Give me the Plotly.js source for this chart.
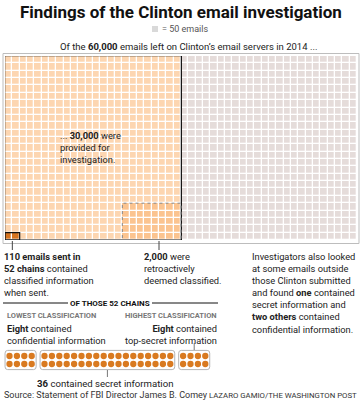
<!DOCTYPE html>
<html><head><meta charset="utf-8">
<script src="https://cdn.plot.ly/plotly-3.0.1.min.js"></script>
<style>html,body{margin:0;padding:0;background:#fff}#chart{width:362px;height:400px}</style>
</head><body><div id="chart"></div>
<script>
// ---- data ----
const totalEmails = 60000;
const emailsPerSquare = 50;
const providedEmails = 30000;
const retroClassifiedEmails = 2000;
const classifiedWhenSentEmails = 110;
const chainGroups = ["Confidential", "Secret", "Top secret"];
const chainCounts = [8, 36, 8];
const gridRows = 25;
const retroRows = 5;

// ---- helpers ----
const W = 362, H = 400;
const px = x => x / W;
const py = y => 1 - y / H;
const FONT = "Roboto, 'Liberation Sans', sans-serif";
const TXT = "#222";

// ---- grid ----
const totalSq = totalEmails / emailsPerSquare;
const nCols = totalSq / gridRows;
const provCols = providedEmails / emailsPerSquare / gridRows;
const retroSq = retroClassifiedEmails / emailsPerSquare;
const retroCols = retroSq / retroRows;
const classSq = Math.round(classifiedWhenSentEmails / emailsPerSquare);
const z = [];
for (let r = 0; r < gridRows; r++) {
  const row = [];
  for (let c = 0; c < nCols; c++) {
    let v = 0;
    if (c < provCols) v = 1;
    if (c < provCols && c >= provCols - retroCols && r < retroRows) v = 2;
    if (r === 0 && c < classSq) v = 3;
    row.push(v);
  }
  z.push(row);
}
const cGrey = "#e5dcda", cOr = "#fdd6b1", cDeep = "#fbc490", cDark = "#d6741f";
const heat = {
  type: "heatmap", z: z, x: [...Array(nCols).keys()], y: [...Array(gridRows).keys()],
  xgap: 1.3, ygap: 1.3, zmin: 0, zmax: 3, showscale: false, hoverinfo: "skip",
  colorscale: [[0, cGrey], [0.1667, cGrey], [0.1667, cOr], [0.5, cOr], [0.5, cDeep], [0.8333, cDeep], [0.8333, cDark], [1, cDark]]
};

// ---- dots ----
const gap = 0.73;
const dx = [], dy = [];
const offsets = [];
let off = 0;
chainCounts.forEach((n, g) => {
  offsets.push(off);
  for (let i = 0; i < n; i++) {
    dx.push(off + Math.floor(i / 2));
    dy.push(i % 2 === 0 ? 0.5 : -0.5);
  }
  off += n / 2 + gap;
});
const dots = {
  type: "scatter", mode: "markers", x: dx, y: dy, xaxis: "x2", yaxis: "y2",
  marker: { size: 6.3, color: "#d97a20", line: { width: 0 } }, hoverinfo: "skip"
};

// ---- shapes ----
const shapes = [];
shapes.push({ type: "rect", xref: "paper", yref: "paper", x0: px(3), x1: px(359), y0: py(243.5), y1: py(53.5), line: { color: "#bdbdbd", width: 1 } });
shapes.push({ type: "rect", xref: "x", yref: "y", x0: -0.55, x1: provCols - 0.45, y0: -0.5, y1: gridRows - 0.45, line: { color: "#111", width: 1.2 } });
shapes.push({ type: "rect", xref: "x", yref: "y", x0: provCols - retroCols - 0.5, x1: provCols - 0.5, y0: -0.5, y1: retroRows - 0.5, line: { color: "#888", width: 1, dash: "dot" } });
shapes.push({ type: "rect", xref: "x", yref: "y", x0: -0.5, x1: classSq - 0.5, y0: -0.5, y1: 0.5, line: { color: "#111", width: 1.2 } });
shapes.push({ type: "line", xref: "x", yref: "paper", x0: (classSq - 1) / 2, x1: (classSq - 1) / 2, y0: py(241), y1: py(250), line: { color: "#444", width: 1 } });
shapes.push({ type: "line", xref: "x", yref: "paper", x0: provCols - 3.5, x1: provCols - 3.5, y0: py(241), y1: py(250), line: { color: "#444", width: 1 } });
chainCounts.forEach((n, g) => {
  const a = offsets[g] - 0.6, b = offsets[g] + n / 2 - 1 + 0.6, lo = -1.2, hi = 1.2, r = 0.35, ry = 0.35;
  const p = `M ${a + r},${hi} L ${b - r},${hi} Q ${b},${hi} ${b},${hi - ry} L ${b},${lo + ry} Q ${b},${lo} ${b - r},${lo} L ${a + r},${lo} Q ${a},${lo} ${a},${lo + ry} L ${a},${hi - ry} Q ${a},${hi} ${a + r},${hi} Z`;
  shapes.push({ type: "path", xref: "x2", yref: "y2", path: p, line: { color: "#b5b5b5", width: 1 } });
});
const c1 = offsets[1] + (chainCounts[1] / 2 - 1) / 2;
const c2 = offsets[2] + (chainCounts[2] / 2 - 1) / 2;
shapes.push({ type: "line", xref: "x2", yref: "paper", x0: c1, x1: c1, y0: py(370), y1: py(377), line: { color: "#777", width: 1 } });
shapes.push({ type: "line", xref: "x2", yref: "paper", x0: c2, x1: c2, y0: py(343), y1: py(350), line: { color: "#777", width: 1 } });
shapes.push({ type: "line", xref: "paper", yref: "paper", x0: px(3), x1: px(68), y0: py(303), y1: py(303), line: { color: "#111", width: 1 } });
shapes.push({ type: "line", xref: "paper", yref: "paper", x0: px(152), x1: px(218), y0: py(303), y1: py(303), line: { color: "#111", width: 1 } });
shapes.push({ type: "rect", xref: "paper", yref: "paper", x0: px(152), x1: px(158), y0: py(32), y1: py(26), fillcolor: "#d9d9d9", line: { width: 0 } });

// ---- annotations ----
const ann = [];
const BODY = 9.3;
function t(text, x, y, opt = {}) {
  ann.push(Object.assign({ text: text, x: px(x), y: py(y), xref: "paper", yref: "paper", showarrow: false,
    xanchor: "left", yanchor: "middle", align: "left", font: { family: FONT, size: BODY, color: TXT } }, opt));
}
function block(lines, x, ytop, opt = {}) {
  t(lines.join("<br>"), x, ytop, Object.assign({ yanchor: "top" }, opt));
}

t("<b>Findings of the Clinton email investigation</b>", 181, 12, { xanchor: "center", font: { family: FONT, size: 17, color: "#111" } });
t("= 50 emails", 160, 29, { font: { family: FONT, size: 9, color: "#555" } });
t("Of the <b>60,000</b> emails left on Clinton’s email servers in 2014 ...", 188, 46, { xanchor: "center", font: { family: FONT, size: 9.5, color: TXT } });
block(["... <b>30,000</b> were", "provided for", "investigation."], 58, 128);
block(["<b>110 emails sent in</b>", "<b>52 chains</b> contained", "classified information", "when sent."], 2, 249);
block(["<b>2,000</b> were", "retroactively", "deemed classified."], 142, 249);
block(["Investigators also looked", "at some emails outside", "those Clinton submitted", "and found <b>one</b> contained",
  "secret information and", "<b>two others</b> contained", "confidential information."], 250, 249);
t("<b>OF THOSE 52 CHAINS</b>", 110, 303, { xanchor: "center", font: { family: FONT, size: 8, color: "#111" } });
t("<b>LOWEST CLASSIFICATION</b>", 5, 315, { font: { family: FONT, size: 7.5, color: "#777" } });
block(["<b>Eight</b> contained", "confidential information"], 5, 321);
t("<b>HIGHEST CLASSIFICATION</b>", 219, 315, { xanchor: "right", font: { family: FONT, size: 7.5, color: "#777" } });
block(["<b>Eight</b> contained", "top-secret information"], 219, 321, { xanchor: "right", align: "right" });
t("<b>36</b> contained secret information", 105, 383, { xanchor: "center", font: { family: FONT, size: 9.6, color: TXT } });
t("Source: Statement of FBI Director James B. Comey", 2, 395, { font: { family: FONT, size: 9, color: "#333" } });
t("LAZARO GAMIO/THE WASHINGTON POST", 359, 395, { xanchor: "right", font: { family: FONT, size: 7.8, color: "#333" } });

const ax = { visible: false, fixedrange: true, showgrid: false, zeroline: false };
const layout = {
  width: W, height: H, margin: { l: 0, r: 0, t: 0, b: 0 }, paper_bgcolor: "#fff", plot_bgcolor: "rgba(0,0,0,0)",
  showlegend: false,
  xaxis: Object.assign({ domain: [px(5), px(357)], range: [-0.5, nCols - 0.5] }, ax),
  yaxis: Object.assign({ domain: [py(240), py(56)], range: [-0.5, gridRows - 0.5] }, ax),
  xaxis2: Object.assign({ domain: [0, 1], range: [-9.5 / 7.4, (W - 9.5) / 7.4], anchor: "y2" }, ax),
  yaxis2: Object.assign({ domain: [py(374), py(346)], range: [-1.75, 1.75], anchor: "x2" }, ax),
  shapes: shapes, annotations: ann
};
Plotly.newPlot("chart", [heat, dots], layout, { staticPlot: true, displayModeBar: false });
</script></body></html>
